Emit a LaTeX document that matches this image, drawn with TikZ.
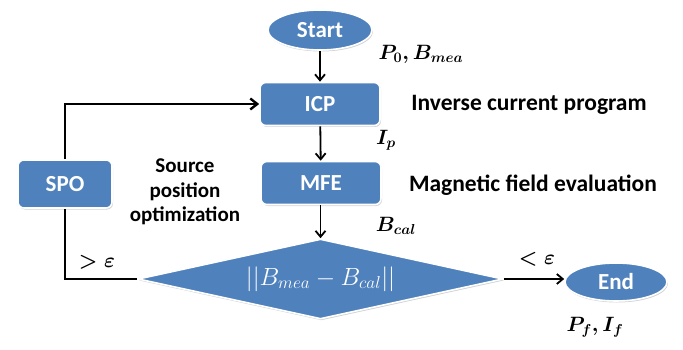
\documentclass[tikz,border=0pt]{standalone}
\usepackage{fontspec}
\usepackage{amsmath}
\newfontfamily\carl{Carlito}
\usetikzlibrary{shapes.geometric,arrows.meta,shadows}
\definecolor{myblue}{HTML}{4F81BD}
\tikzset{
  blk/.style={draw=white, line width=1.6pt, fill=myblue, text=white, inner sep=0pt,
    font=\carl\bfseries\fontsize{23}{27}\selectfont,
    drop shadow={opacity=0.35, shadow xshift=1pt, shadow yshift=-1.5pt}},
  boxn/.style={blk, rectangle, rounded corners=6pt, minimum width=120pt, minimum height=43pt},
  ovaln/.style={blk, ellipse},
  lab/.style={font=\carl\bfseries\fontsize{23.5}{28}\selectfont, text=black},
  mlab/.style={font=\boldmath\fontsize{21}{25}\selectfont, text=black},
  conn/.style={line width=1.8pt, -{Straight Barb[length=6pt,width=10pt]}},
  fb/.style={line width=2.4pt}
}
\begin{document}
\begin{tikzpicture}[x=1pt,y=-1pt]
\useasboundingbox (0,0) rectangle (683,350);
\node[ovaln, minimum width=104pt, minimum height=40pt] (start) at (320,30) {Start};
\node[boxn] (icp) at (320,104) {ICP};
\node[boxn] (mfe) at (321,183) {MFE};
\node[blk, rectangle, rounded corners=6pt, minimum width=94pt, minimum height=48pt] (spo) at (65,184) {SPO};
\node[blk, diamond, shape aspect=4.56, minimum width=365pt, minimum height=80pt, font=\fontsize{25}{29}\selectfont] (dia) at (320.5,279) {$||B_{mea}-B_{cal}||$};
\node[ovaln, minimum width=102pt, minimum height=38pt] (end) at (616,282) {End};

\node[mlab] (p0) at (421,54) {$P_0,B_{mea}$};
\node[mlab] (ip) at (386,140) {$I_p$};
\node[mlab] (bcal) at (396,226) {$B_{cal}$};
\node[mlab] (pf) at (595,327) {$P_f,I_f$};
\node[mlab] (gt) at (97,262) {$>\boldsymbol{\varepsilon}$};
\node[mlab] (lt) at (537,259) {$<\boldsymbol{\varepsilon}$};

\node[lab] (icpd) at (529,105) {Inverse current program};
\node[lab] (mfed) at (533,185) {Magnetic field evaluation};
\node[lab, align=center, font=\carl\bfseries\fontsize{21}{24.5}\selectfont] (spod) at (185,192) {Source\\position\\optimization};

\draw[conn] (start) -- (icp);
\draw[conn] (icp) -- (mfe);
\draw[conn] (mfe.south -| dia.north) -- (dia.north);
\draw[conn] (dia.east) -- (dia.east -| end.west);
\draw[fb] (dia.west) -- (dia.west -| spo.south) -- (spo.south);
\draw[fb, -{Straight Barb[length=7pt,width=11pt]}] (spo.north) |- (icp.west);
\end{tikzpicture}
\end{document}
